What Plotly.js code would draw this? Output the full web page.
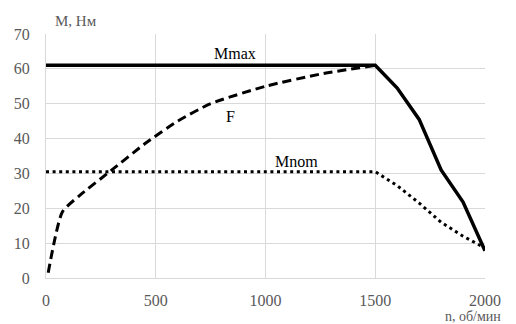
<!DOCTYPE html>
<html>
<head>
<meta charset="utf-8">
<script src="https://cdn.plot.ly/plotly-3.0.1.min.js"></script>
<style>
  html, body { margin: 0; padding: 0; background: #fff; }
  #chart { width: 516px; height: 324px; }
</style>
</head>
<body>
<div id="chart"></div>
<script>
// Torque characteristics of the drive versus shaft speed
const speedMax = [0, 1500, 1600, 1700, 1800, 1900, 2000];      // n, об/мин
const torqueMax = [61, 61, 54.5, 45.5, 31, 21.8, 7.8];          // Mmax, Нм

const speedNom = [0, 1500, 1600, 1700, 1800, 1900, 2000];
const torqueNom = [30.5, 30.5, 26.5, 21.5, 16, 12, 8.6];        // Mnom, Нм

const speedF = [10, 75, 150, 300, 450, 600, 750, 1000, 1250, 1500];
const torqueF = [1.5, 19, 23.5, 31, 38.5, 45, 50, 55, 58.5, 61]; // F, Нм

const xTicks = [0, 500, 1000, 1500, 2000];
const yTicks = [0, 10, 20, 30, 40, 50, 60, 70];

const FONT = 'Liberation Serif';

const traces = [
  {
    x: speedMax, y: torqueMax, mode: 'lines', name: 'Mmax',
    line: { color: '#000', width: 3.5 }
  },
  {
    x: speedF, y: torqueF, mode: 'lines', name: 'F',
    line: { color: '#000', width: 3, dash: '9px,5px', shape: 'spline', smoothing: 0.6 }
  },
  {
    x: speedNom, y: torqueNom, mode: 'lines', name: 'Mnom',
    line: { color: '#000', width: 3, dash: '3px,3.6px' }
  }
];

const layout = {
  width: 516, height: 324,
  margin: { l: 46, r: 31, t: 34, b: 46 },
  paper_bgcolor: '#fff', plot_bgcolor: '#fff',
  showlegend: false,
  xaxis: {
    range: [0, 2000], tickvals: xTicks,
    showgrid: true, gridcolor: '#d9d9d9', gridwidth: 1,
    zeroline: false, showline: true, linecolor: '#d9d9d9', linewidth: 1,
    ticks: '', tickfont: { family: FONT, size: 16, color: '#595959' },
    ticklabelstandoff: 8
  },
  yaxis: {
    range: [0, 70], tickvals: yTicks,
    showgrid: true, gridcolor: '#d9d9d9', gridwidth: 1,
    zeroline: false, showline: true, linecolor: '#d9d9d9', linewidth: 1,
    ticks: '', tickfont: { family: FONT, size: 16, color: '#595959' },
    ticklabelstandoff: 12
  },
  annotations: [
    { text: 'M, Нм', xref: 'paper', yref: 'paper', x: 0.016, y: 1.0, yshift: 13,
      xanchor: 'left', yanchor: 'middle', showarrow: false,
      font: { family: FONT, size: 15, color: '#595959' } },
    { text: 'n, об/мин', xref: 'paper', yref: 'paper', x: 0.973, y: 0, yshift: -38,
      xanchor: 'center', yanchor: 'middle', showarrow: false,
      font: { family: FONT, size: 14, color: '#595959' } },
    { text: 'Mmax', x: 860, y: 64.5, showarrow: false,
      font: { family: FONT, size: 16, color: '#000' } },
    { text: 'F', x: 840, y: 46.2, showarrow: false,
      font: { family: FONT, size: 16, color: '#000' } },
    { text: 'Mnom', x: 1140, y: 33.5, showarrow: false,
      font: { family: FONT, size: 16, color: '#000' } }
  ]
};

Plotly.newPlot('chart', traces, layout, { displayModeBar: false, staticPlot: true });
</script>
</body>
</html>
